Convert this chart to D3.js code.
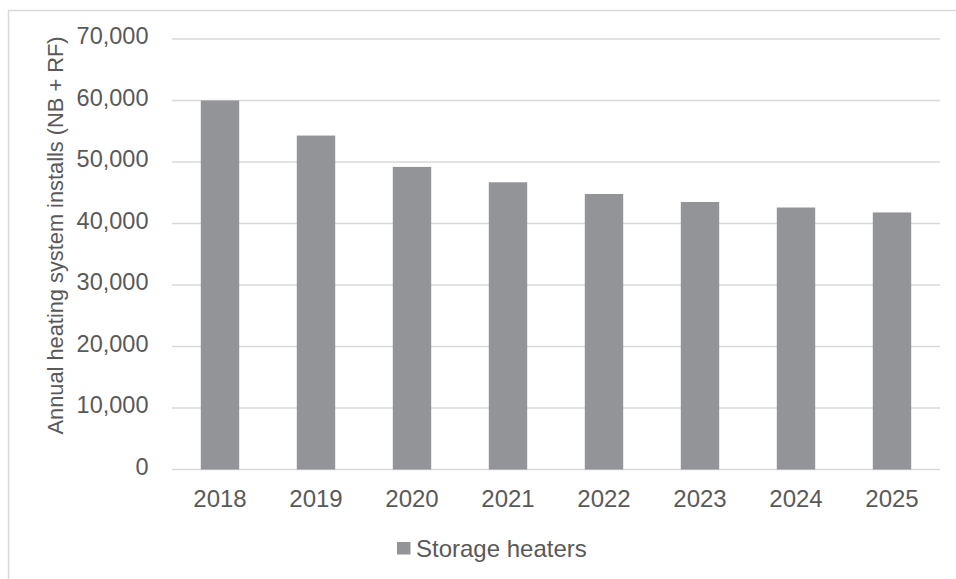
<!DOCTYPE html>
<html>
<head>
<meta charset="utf-8">
<script src="https://cdn.jsdelivr.net/npm/d3@7"></script>
<style>
  html, body { margin: 0; padding: 0; background: #fff; }
  svg { display: block; font-family: Arial, "Liberation Sans", sans-serif; }
</style>
</head>
<body>
<svg id="chart" width="956" height="579"></svg>
<script>
// Annual storage heater installs by year
const years = ["2018", "2019", "2020", "2021", "2022", "2023", "2024", "2025"];
const installs = [60000, 54300, 49200, 46700, 44800, 43500, 42600, 41800];
const yTicks = [0, 10000, 20000, 30000, 40000, 50000, 60000, 70000];
const seriesName = "Storage heaters";
const yTitle = "Annual heating system installs (NB + RF)";

const svg = d3.select("#chart");
const W = 956, H = 579;
const m = { left: 172, right: 16, top: 39, bottom: 109.5 };
const textColor = "#595959";
const barColor = "#939497";
const gridColor = "#d9d9d9";

// Outer frame (top and left edges visible)
svg.append("path")
  .attr("d", `M8.5,${H} V10.5 H${W}`)
  .attr("fill", "none")
  .attr("stroke", "#d9d9d9")
  .attr("stroke-width", 1.5);

const x = d3.scaleBand()
  .domain(years)
  .range([m.left, W - m.right])
  .paddingInner(0.6)
  .paddingOuter(0.3);

const y = d3.scaleLinear()
  .domain([0, 70000])
  .range([H - m.bottom, m.top]);

// Horizontal gridlines
svg.append("g")
  .selectAll("line")
  .data(yTicks)
  .join("line")
  .attr("x1", m.left)
  .attr("x2", W - m.right)
  .attr("y1", d => y(d))
  .attr("y2", d => y(d))
  .attr("stroke", gridColor)
  .attr("stroke-width", 1.5);

// Bars
svg.append("g")
  .selectAll("rect")
  .data(years.map((yr, i) => ({ yr, v: installs[i] })))
  .join("rect")
  .attr("x", d => x(d.yr))
  .attr("width", x.bandwidth())
  .attr("y", d => y(d.v))
  .attr("height", d => y(0) - y(d.v))
  .attr("fill", barColor);

// Y axis labels
const yAxis = d3.axisLeft(y)
  .tickValues(yTicks)
  .tickFormat(d3.format(","))
  .tickSize(0)
  .tickPadding(0);

const gy = svg.append("g")
  .attr("transform", `translate(148.5,0)`)
  .call(yAxis);
gy.select(".domain").remove();
gy.selectAll("text")
  .attr("fill", textColor)
  .attr("font-size", 23.5)
  .attr("dy", "0.2em");

// X axis labels
const xAxis = d3.axisBottom(x).tickSize(0).tickPadding(0);
const gx = svg.append("g")
  .attr("transform", `translate(0,${y(0)})`)
  .call(xAxis);
gx.select(".domain").remove();
gx.selectAll("text")
  .attr("fill", textColor)
  .attr("font-size", 24)
  .attr("dy", "0")
  .attr("y", 37);

// Y axis title
svg.append("text")
  .attr("transform", `translate(63,${(40 + 431) / 2}) rotate(-90)`)
  .attr("text-anchor", "middle")
  .attr("fill", textColor)
  .attr("font-size", 21.8)
  .text(yTitle);

// Legend
const lg = svg.append("g").attr("transform", "translate(397,542)");
lg.append("rect")
  .attr("width", 13.5)
  .attr("height", 12.5)
  .attr("fill", barColor);
lg.append("text")
  .attr("x", 19)
  .attr("y", 14.5)
  .attr("fill", textColor)
  .attr("font-size", 24)
  .text(seriesName);
</script>
</body>
</html>
